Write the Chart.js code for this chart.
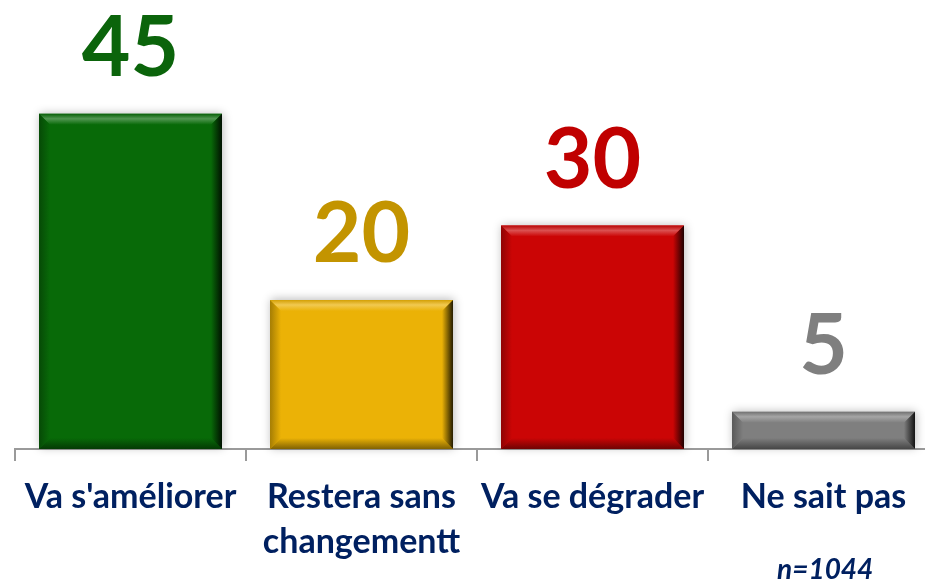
<!DOCTYPE html>
<html>
<head>
<meta charset="utf-8">
<script src="https://cdn.jsdelivr.net/npm/chart.js@4.4.1/dist/chart.umd.min.js"></script>
<style>
  html, body { margin: 0; padding: 0; background: #fff; overflow: hidden; }
  #wrap { position: relative; width: 925px; height: 579px; overflow: hidden; }
  #note {
    position: absolute; left: 777px; top: 551px; line-height: 34px;
    font: italic bold 28px Lato, "Open Sans", sans-serif; color: #002060;
  }
</style>
</head>
<body>
<div id="wrap">
  <canvas id="myChart" width="950" height="579"></canvas>
  <div id="note">n=1044</div>
</div>
<script>
// données du graphique
const CATEGORIES = ["Va s'améliorer", ["Restera sans", "changementt"], "Va se dégrader", "Ne sait pas"];
const VALUES = [45, 20, 30, 5];
const BAR_COLORS = ["#086a08", "#ebb206", "#cb0505", "#7f7f7f"];
const LABEL_COLORS = ["#0b640b", "#c39400", "#c00000", "#7f7f7f"];

// étiquettes de valeur au-dessus des barres
const valueLabels = {
    id: 'valueLabels',
    afterDatasetsDraw(chart) {
        const ctx = chart.ctx;
        const meta = chart.getDatasetMeta(0);
        ctx.save();
        ctx.font = "bold 84px Lato, 'Open Sans', sans-serif";
        ctx.textAlign = 'center';
        ctx.textBaseline = 'alphabetic';
        meta.data.forEach((bar, i) => {
            ctx.fillStyle = LABEL_COLORS[i];
            ctx.fillText(String(VALUES[i]), bar.x, bar.y - 38);
        });
        ctx.restore();
    }
};

function shade(hex, amt) {
    const n = parseInt(hex.slice(1), 16);
    let r = n >> 16, g = (n >> 8) & 255, b = n & 255;
    const f = c => Math.max(0, Math.min(255, Math.round(amt >= 0 ? c + (255 - c) * amt : c * (1 + amt))));
    return `rgb(${f(r)},${f(g)},${f(b)})`;
}

// effet biseauté façon Office
const bevel = {
    id: 'bevel',
    beforeDatasetsDraw(chart) {
        const ctx = chart.ctx;
        ctx.save();
        chart.getDatasetMeta(0).data.forEach(bar => {
            const l = bar.x - bar.width / 2, r = bar.x + bar.width / 2;
            ctx.shadowColor = 'rgba(0,0,0,0.28)';
            ctx.shadowBlur = 9;
            ctx.shadowOffsetX = 1;
            ctx.shadowOffsetY = -1;
            ctx.fillStyle = '#fff';
            ctx.fillRect(l, bar.y, r - l, bar.base - bar.y);
        });
        ctx.restore();
    },
    afterDatasetsDraw(chart) {
        const ctx = chart.ctx;
        const b = 11;
        chart.getDatasetMeta(0).data.forEach((bar, i) => {
            const c = BAR_COLORS[i];
            const l = bar.x - bar.width / 2, r = bar.x + bar.width / 2;
            const t = bar.y, btm = bar.base;
            const bb = Math.min(b, (btm - t) / 2);
            ctx.save();
            // haut
            let g = ctx.createLinearGradient(0, t, 0, t + bb);
            g.addColorStop(0, shade(c, -0.1));
            g.addColorStop(0.45, shade(c, 0.3));
            g.addColorStop(1, c);
            ctx.fillStyle = g;
            ctx.beginPath();
            ctx.moveTo(l, t); ctx.lineTo(r, t); ctx.lineTo(r - bb, t + bb); ctx.lineTo(l + bb, t + bb); ctx.closePath();
            ctx.fill();
            // gauche
            g = ctx.createLinearGradient(l, 0, l + bb, 0);
            g.addColorStop(0, shade(c, -0.3));
            g.addColorStop(1, c);
            ctx.fillStyle = g;
            ctx.beginPath();
            ctx.moveTo(l, t); ctx.lineTo(l + bb, t + bb); ctx.lineTo(l + bb, btm - bb); ctx.lineTo(l, btm); ctx.closePath();
            ctx.fill();
            // bas
            g = ctx.createLinearGradient(0, btm - bb, 0, btm);
            g.addColorStop(0, c);
            g.addColorStop(1, shade(c, -0.45));
            ctx.fillStyle = g;
            ctx.beginPath();
            ctx.moveTo(l, btm); ctx.lineTo(l + bb, btm - bb); ctx.lineTo(r - bb, btm - bb); ctx.lineTo(r, btm); ctx.closePath();
            ctx.fill();
            // droite
            g = ctx.createLinearGradient(r - bb, 0, r, 0);
            g.addColorStop(0, c);
            g.addColorStop(1, shade(c, -0.85));
            ctx.fillStyle = g;
            ctx.beginPath();
            ctx.moveTo(r, t); ctx.lineTo(r, btm); ctx.lineTo(r - bb, btm - bb); ctx.lineTo(r - bb, t + bb); ctx.closePath();
            ctx.fill();
            ctx.restore();
        });
        valueLabels.afterDatasetsDraw(chart);
    }
};

new Chart(document.getElementById('myChart').getContext('2d'), {
    type: 'bar',
    data: {
        labels: CATEGORIES,
        datasets: [{
            data: VALUES,
            backgroundColor: BAR_COLORS,
            borderWidth: 0,
            categoryPercentage: 1,
            barPercentage: 0.792
        }]
    },
    options: {
        responsive: false,
        animation: false,
        layout: { padding: { top: 2, left: 15, right: 11, bottom: 0 } },
        plugins: { legend: { display: false }, tooltip: { enabled: false } },
        scales: {
            y: { display: false, min: 0, max: 60 },
            x: {
                afterFit: s => { s.height = 130; },
                grid: { offset: true, drawOnChartArea: false, drawTicks: true, tickLength: 12, color: '#9a9a9a', lineWidth: 2 },
                border: { display: true, color: '#9a9a9a', width: 2 },
                ticks: {
                    color: '#002060',
                    padding: 14,
                    maxRotation: 0,
                    autoSkip: false,
                    font: { family: "Lato, 'Open Sans', sans-serif", size: 34, weight: 'bold', lineHeight: 1.32 }
                }
            }
        }
    },
    plugins: [bevel]
});
</script>
</body>
</html>
